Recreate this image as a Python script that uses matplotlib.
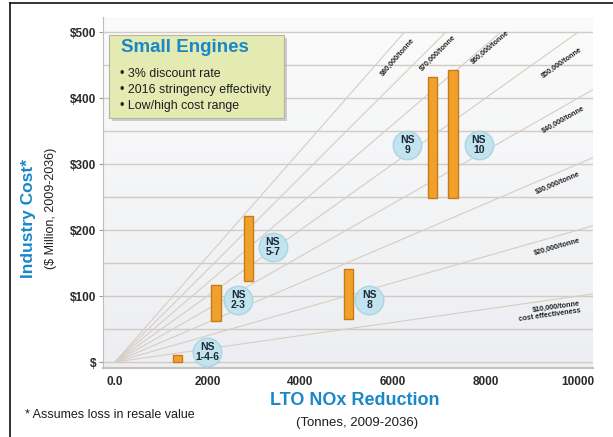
import numpy as np
import matplotlib
matplotlib.use("Agg")
import matplotlib.pyplot as plt
from matplotlib.patches import Rectangle

plt.rcParams['font.family'] = ['Liberation Sans', 'DejaVu Sans']

# cost range per engine group ($ million) against NOx reduced (tonnes)
groups = ["NS\n1-4-6", "NS\n2-3", "NS\n5-7", "NS\n8", "NS\n9", "NS\n10"]
reduction = [1350, 2180, 2890, 5050, 6850, 7300]
cost_low = [0, 62, 123, 65, 248, 248]
cost_high = [11, 117, 221, 141, 432, 442]

# bubble tags next to each bar
tag_x = [1990, 2660, 3410, 5490, 6310, 7860]
tag_y = [15, 94, 174, 94, 329, 329]

# cost-effectiveness reference lines, $/tonne
rates = [10000, 20000, 30000, 40000, 50000, 60000, 70000, 80000]
rate_labels = ["$10,000/tonne\ncost effectiveness", "$20,000/tonne", "$30,000/tonne",
               "$40,000/tonne", "$50,000/tonne", "$60,000/tonne", "$70,000/tonne",
               "$80,000/tonne"]
label_pos = [(9380, 76), (9546, 174), (9568, 271), (9676, 367), (9654, 453),
             (8099, 477), (6976, 468), (6112, 462)]

y_ticks = [0, 100, 200, 300, 400, 500]
y_ticklabels = ["$", "$100", "$200", "$300", "$400", "$500"]
x_ticks = [0, 2000, 4000, 6000, 8000, 10000]
x_ticklabels = ["0.0", "2000", "4000", "6000", "8000", "10000"]

BLUE = "#1a87c9"
XMAX, YMAX = 10320, 523

fig = plt.figure(figsize=(6.13, 4.37), dpi=100)
ax = fig.add_axes([0.168, 0.158, 0.799, 0.803])
ax.set_xlim(-260, XMAX)
ax.set_ylim(-9, YMAX)

# soft panel shading
grad = np.linspace(1, 0, 256).reshape(-1, 1)
ax.imshow(grad, extent=[0, 1, 0, 1], transform=ax.transAxes, aspect="auto",
          cmap=matplotlib.colors.LinearSegmentedColormap.from_list("p", ["#eceef1", "#fbfbfb"]),
          zorder=0)

for g in range(0, 501, 50):
    ax.axhline(g, color="#d2cbc5", lw=1.0, zorder=1)

# $/tonne lines from the origin, clipped at $500
for r in rates:
    slope = r / 1e6
    xe = min(XMAX, 500 / slope)
    xs = np.array([0, xe])
    ax.plot(xs, xs * slope, color="#d6cdc4", lw=0.8, zorder=2)

fig.canvas.draw()
for r, lab, (lx, ly) in zip(rates, rate_labels, label_pos):
    p0 = ax.transData.transform((0, 0))
    p1 = ax.transData.transform((1000, r / 1000))
    ang = np.degrees(np.arctan2(p1[1] - p0[1], p1[0] - p0[0]))
    ax.text(lx, ly, lab, rotation=ang, ha="center", va="center", fontsize=5.2,
            fontweight="bold", color="#222222", multialignment="right",
            linespacing=1.0, rotation_mode="anchor", zorder=3)

# cost range bars
for x, lo, hi in zip(reduction, cost_low, cost_high):
    ax.add_patch(Rectangle((x - 100, lo), 200, hi - lo, facecolor="#f0a12c",
                           edgecolor="#c97a16", lw=1.0, zorder=4))

ax.scatter(tag_x, tag_y, s=420, color="#c3e4ef", edgecolor="#a9d5e4", lw=1.0, zorder=5)
for x, y, g in zip(tag_x, tag_y, groups):
    ax.text(x, y, g, ha="center", va="center", fontsize=7.5, fontweight="bold",
            color="#1b2838", linespacing=1.0, zorder=6)

for s in ["top", "right"]:
    ax.spines[s].set_visible(False)
ax.spines["left"].set_color("#bdbdbd")
ax.spines["bottom"].set_color("#c8c2bd")
ax.spines["bottom"].set_linewidth(1.5)
ax.set_yticks(y_ticks)
ax.set_yticklabels(y_ticklabels, fontsize=8.5, fontweight="bold", color="#2a2a2a")
ax.set_xticks(x_ticks)
ax.set_xticklabels(x_ticklabels, fontsize=8.5, fontweight="bold", color="#2a2a2a")
ax.tick_params(axis="y", length=3, color="#999999", pad=2)
ax.tick_params(axis="x", length=0, pad=6)

# info box
fig.patches.append(Rectangle((0.183, 0.722), 0.286, 0.19, transform=fig.transFigure,
                             facecolor="#bbbbbb", edgecolor="none", alpha=0.7, zorder=7))
fig.patches.append(Rectangle((0.178, 0.730), 0.286, 0.19, transform=fig.transFigure,
                             facecolor="#e3eab2", edgecolor="#b5b5a0", lw=0.8, zorder=8))
fig.text(0.198, 0.891, "Small Engines", fontsize=13.5, fontweight="bold", color=BLUE,
         va="center", zorder=9)
for i, t in enumerate(["3% discount rate", "2016 stringency effectivity", "Low/high cost range"]):
    fig.text(0.196, 0.831 - i * 0.037, "\u2022 " + t, fontsize=8.9, color="#1e1e1e",
             va="center", zorder=9)

# axis titles
fig.text(0.047, 0.50, "Industry Cost*", rotation=90, fontsize=12.5, fontweight="bold",
         color=BLUE, ha="center", va="center")
fig.text(0.083, 0.524, "($ Million, 2009-2036)", rotation=90, fontsize=9,
         color="#1e1e1e", ha="center", va="center")
fig.text(0.579, 0.084, "LTO NOx Reduction", fontsize=13, fontweight="bold", color=BLUE,
         ha="center", va="center")
fig.text(0.582, 0.032, "(Tonnes, 2009-2036)", fontsize=9.5, color="#1e1e1e",
         ha="center", va="center")
fig.text(0.041, 0.050, "* Assumes loss in resale value", fontsize=9, color="#1e1e1e",
         ha="left", va="center")

# outer frame
fig.add_artist(plt.Line2D([0.016, 0.016], [0, 0.993], color="#111111", lw=1.2))
fig.add_artist(plt.Line2D([0.016, 1.0], [0.993, 0.993], color="#111111", lw=1.2))

fig.savefig("out.png", dpi=100)
